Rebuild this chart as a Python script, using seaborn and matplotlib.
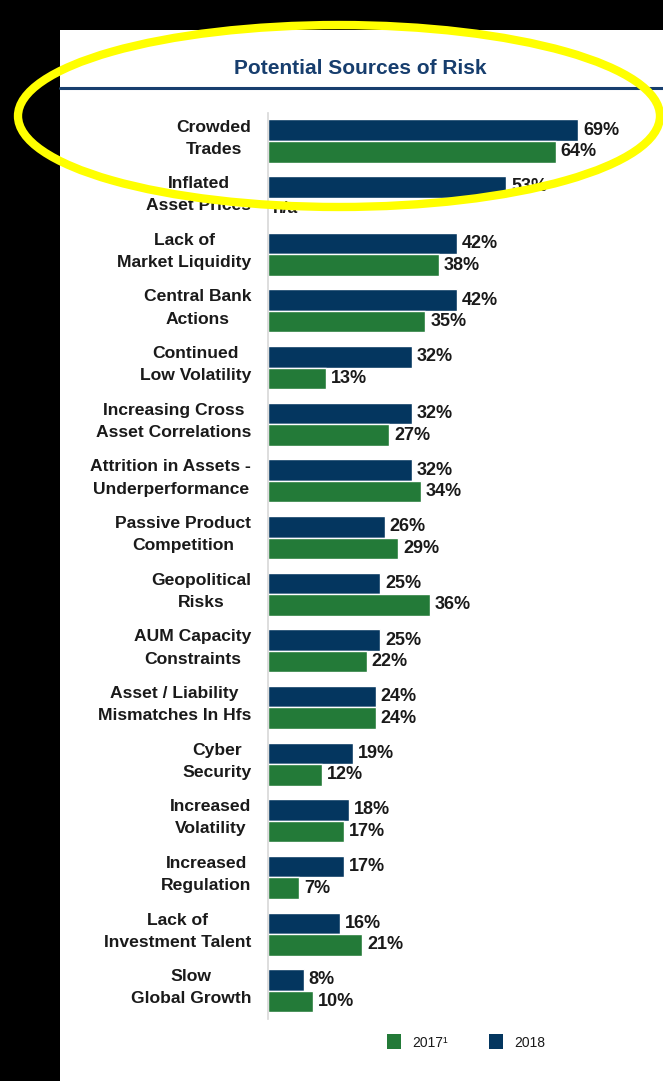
import matplotlib
matplotlib.use("Agg")
import matplotlib.pyplot as plt
from matplotlib.patches import Rectangle, Ellipse, Patch
from matplotlib.lines import Line2D
from matplotlib.transforms import ScaledTranslation
import seaborn as sns
import pandas as pd
import numpy as np

categories = ["Crowded\nTrades", "Inflated\nAsset Prices", "Lack of\nMarket Liquidity",
              "Central Bank\nActions", "Continued\nLow Volatility",
              "Increasing Cross\nAsset Correlations", "Attrition in Assets -\nUnderperformance",
              "Passive Product\nCompetition", "Geopolitical\nRisks", "AUM Capacity\nConstraints",
              "Asset / Liability\nMismatches In Hfs", "Cyber\nSecurity", "Increased\nVolatility",
              "Increased\nRegulation", "Lack of\nInvestment Talent", "Slow\nGlobal Growth"]
values_2018 = [69, 53, 42, 42, 32, 32, 32, 26, 25, 25, 24, 19, 18, 17, 16, 8]
values_2017 = [64, np.nan, 38, 35, 13, 27, 34, 29, 36, 22, 24, 12, 17, 7, 21, 10]
series = ["2018", "2017"]
legend_labels = ["2017¹", "2018"]
title = "Potential Sources of Risk"

NAVY = "#04365f"
GREEN = "#237a38"
TEXT = "#1a1a1a"

sns.set_style("white")
plt.rcParams["font.family"] = ["Liberation Sans", "DejaVu Sans"]

df = pd.DataFrame({
    "category": categories * 2,
    "year": ["2018"] * len(categories) + ["2017"] * len(categories),
    "value": values_2018 + values_2017,
})

W, H = 663, 1081
fig = plt.figure(figsize=(W / 100, H / 100), dpi=100, facecolor="black")

# white panel
fig.patches.append(Rectangle((60 / W, 0), 1 - 60 / W, 1 - 30 / H, transform=fig.transFigure,
                             facecolor="white", edgecolor="none", zorder=-5))
# title and rule
fig.text(360 / W, 1 - 68 / H, title, ha="center", va="center", fontsize=15,
         fontweight="bold", color="#173e6e")
fig.lines.append(Line2D([60 / W, 1], [1 - 88 / H, 1 - 88 / H], transform=fig.transFigure,
                        color="#173e6e", lw=2.2))

ax = fig.add_axes([268 / W, 62 / H, 373 / W, (1019 - 112.7) / H])
ax.set_facecolor("none")
sns.barplot(data=df, y="category", x="value", hue="year", order=categories,
            hue_order=series, palette={"2018": NAVY, "2017": GREEN},
            orient="h", width=0.76, ax=ax, legend=False, saturation=1)

ax.set_xlim(0, 83)
ax.set_ylim(15.5, -0.5)
ax.set_xlabel("")
ax.set_ylabel("")
ax.set_xticks([])
for s in ["top", "right", "bottom"]:
    ax.spines[s].set_visible(False)
ax.spines["left"].set_color("#d8d8d8")
ax.spines["left"].set_linewidth(1.2)
ax.tick_params(axis="y", length=0, pad=12)
shift = ScaledTranslation(0, 8 / 100, fig.dpi_scale_trans)
for t in ax.get_yticklabels():
    t.set_multialignment("center")
    t.set_fontsize(12.6)
    t.set_fontweight("bold")
    t.set_color(TEXT)
    t.set_linespacing(1.6)
    t.set_transform(t.get_transform() + shift)

# value labels
offsets = {"2018": -0.19, "2017": 0.19}
for name, vals in zip(series, [values_2018, values_2017]):
    for i, v in enumerate(vals):
        yc = i + offsets[name]
        if np.isnan(v):
            ax.text(1, yc, "n/a", ha="left", va="center", fontsize=12.5,
                    fontweight="bold", color=TEXT)
        else:
            ax.annotate(f"{int(v)}%", xy=(v, yc), xytext=(3.5, 0), textcoords="offset points",
                        ha="left", va="center", fontsize=13, fontweight="bold", color=TEXT)

handles = [Patch(facecolor=GREEN, edgecolor="none"), Patch(facecolor=NAVY, edgecolor="none")]
fig.legend(handles, legend_labels, loc="center", bbox_to_anchor=(466 / W, 1 - 1042 / H),
           ncol=2, frameon=False, fontsize=10, handlelength=1.0, handleheight=1.25,
           handletextpad=0.8, columnspacing=3.0, labelcolor=TEXT)

# yellow highlight ellipse
ov = fig.add_axes([0, 0, 1, 1], zorder=10)
ov.set_xlim(0, W)
ov.set_ylim(H, 0)
ov.axis("off")
ov.patch.set_alpha(0)
ov.add_patch(Ellipse((339, 116), 642, 182, angle=0, fill=False, edgecolor="#ffff00", lw=6))

fig.savefig("out.png", dpi=100, facecolor="black")
